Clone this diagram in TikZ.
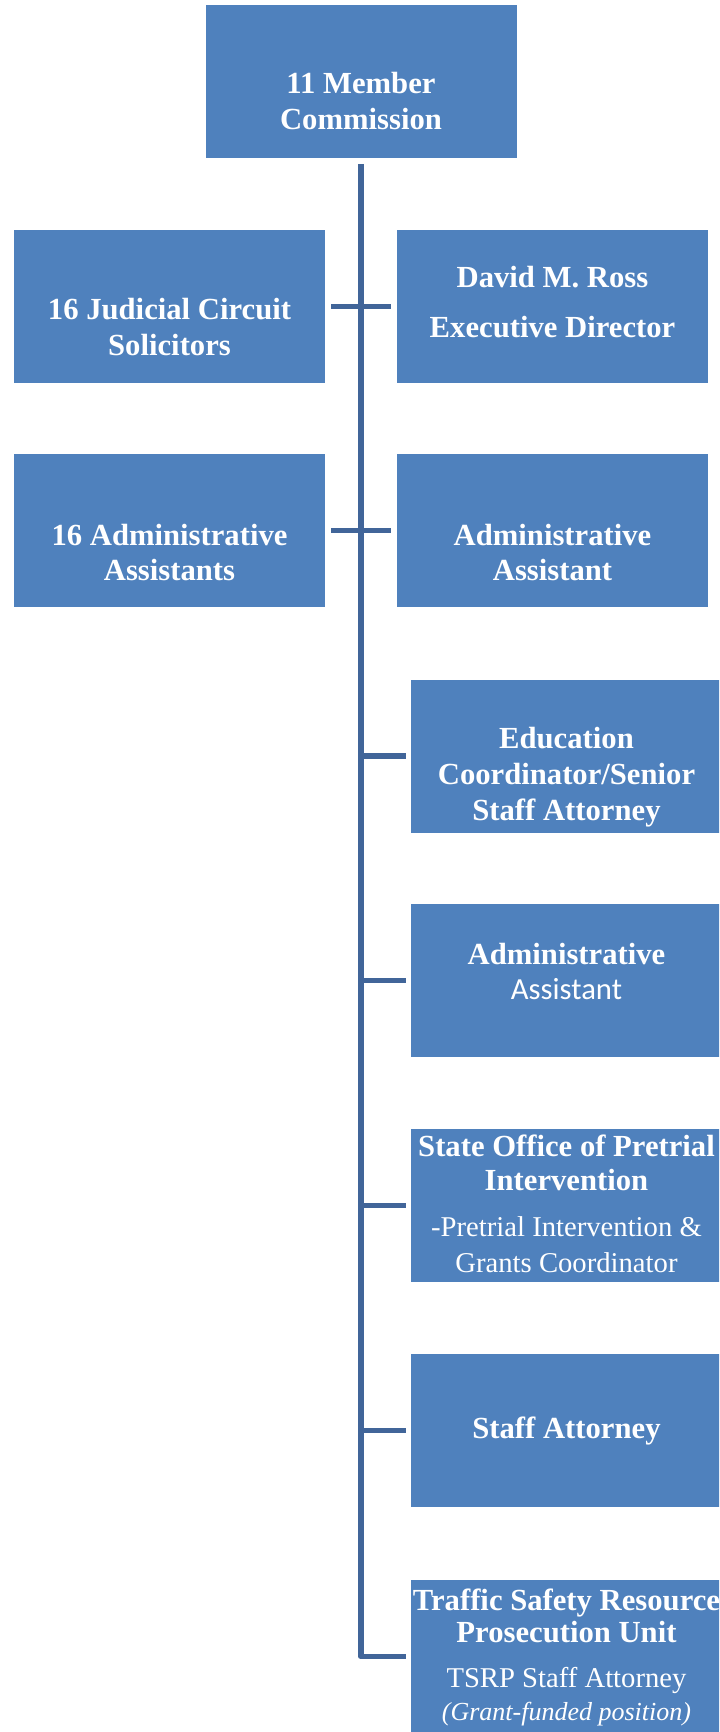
\documentclass[tikz,border=0pt]{standalone}
\usepackage{fontspec}
\setmainfont{Liberation Serif}
\newfontfamily\calibri{Carlito}
\definecolor{boxblue}{RGB}{79,129,189}
\definecolor{linkblue}{RGB}{65,101,153}
\newcommand\subtxt[1]{{\mdseries\fontsize{21.5pt}{27pt}\selectfont #1}}
\begin{document}
\begin{tikzpicture}[x=0.75pt,y=-0.75pt,
  box/.style={rectangle,fill=boxblue,minimum width=233.25pt,minimum height=114.75pt,inner sep=0pt},
  head/.style={text=white,align=center,inner sep=0pt,font=\fontsize{23pt}{27pt}\selectfont\bfseries},
  link/.style={draw=linkblue,line width=4.3pt,line join=round}]
\useasboundingbox (0,0) rectangle (719,1732);
\clip (0,0) rectangle (719,1732);
\node [box] (comm) at (361,81) {};
\node [box] (sol) at (169.5,306.5) {};
\node [box] (ross) at (552.5,306.5) {};
\node [box] (adms) at (169.5,530.5) {};
\node [box] (adm) at (552.5,530.5) {};
\node [box] (edu) at (566.5,756) {};
\node [box] (adm2) at (566.5,980.5) {};
\node [box] (pti) at (566.5,1205.5) {};
\node [box] (staff) at (566.5,1430.5) {};
\node [box] (tsrp) at (566.5,1656.5) {};
\node [head] (commtext) at ([yshift=-15pt]comm.center) {11 Member\\Commission};
\node [head] (soltext) at ([yshift=-15.75pt]sol.center) {16 Judicial Circuit\\Solicitors};
\node [head] (rosstext) at ([yshift=3pt]ross.center) {David M. Ross\\[10.5pt]Executive Director};
\node [head] (admstext) at ([yshift=-16.5pt]adms.center) {16 Administrative\\Assistants};
\node [head] (admtext) at ([yshift=-16.5pt]adm.center) {Administrative\\Assistant};
\node [head] (edutext) at ([yshift=-15.75pt]edu.center) {Education\\Coordinator/Senior\\Staff Attorney};
\node [head] (adm2text) at ([yshift=6.75pt]adm2.center) {Administrative\\[-1pt]{\calibri\mdseries Assistant}};
\node [head] (ptitext) at ([yshift=1.5pt]pti.center) {State Office of Pretrial\\[-1.5pt]Intervention\\[7.5pt]\subtxt{-Pretrial Intervention \&}\\\subtxt{Grants Coordinator}};
\node [head] (stafftext) at (staff.center) {Staff Attorney};
\node [head,font=\fontsize{23pt}{24pt}\selectfont\bfseries] (tsrptext) at ([yshift=-0.75pt]tsrp.center) {Traffic Safety Resource\\Prosecution Unit\\[9.75pt]\subtxt{TSRP Staff Attorney}\\[0.75pt]{\mdseries\itshape\fontsize{19.5pt}{24pt}\selectfont(Grant-funded position)}};
\draw [link,shorten <=4.5pt,shorten >=3.75pt] (comm.south) -- (comm.south |- tsrp.west) -- (tsrp.west);
\draw [link,shorten <=4.5pt,shorten >=4.5pt] (sol.east) -- (ross.west);
\draw [link,shorten <=4.5pt,shorten >=4.5pt] (adms.east) -- (adm.west);
\draw [link,shorten >=3.75pt] (comm.south |- edu.west) -- (edu.west);
\draw [link,shorten >=3.75pt] (comm.south |- adm2.west) -- (adm2.west);
\draw [link,shorten >=3.75pt] (comm.south |- pti.west) -- (pti.west);
\draw [link,shorten >=3.75pt] (comm.south |- staff.west) -- (staff.west);
\end{tikzpicture}
\end{document}
